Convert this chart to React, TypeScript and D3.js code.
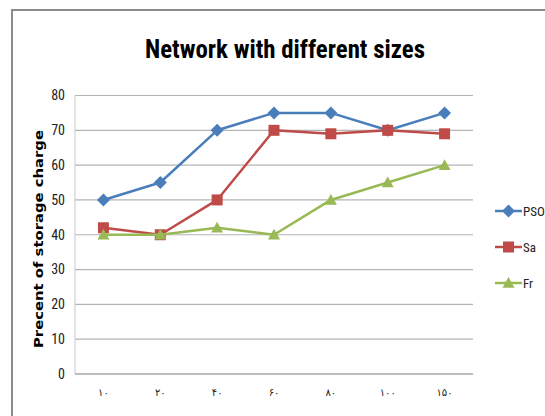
import React from "react";
import * as d3 from "d3";

const categories = ["۱۰", "۲۰", "۴۰", "۶۰", "۸۰", "۱۰۰", "۱۵۰"];
const psoValues = [50, 55, 70, 75, 75, 70, 75];
const saValues = [42, 40, 50, 70, 69, 70, 69];
const frValues = [40, 40, 42, 40, 50, 55, 60];
const yTicks = [0, 10, 20, 30, 40, 50, 60, 70, 80];
const seriesNames = ["PSO", "Sa", "Fr"];

const W = 545;
const H = 416;
const plot = { left: 75, right: 473, top: 95.5, bottom: 374 };
const COND = "'Liberation Sans Narrow', 'Arial Narrow', 'Roboto Condensed', 'Open Sans', sans-serif";

const colors = ["#4a7ebb", "#be4b48", "#98b954"];

function Marker({ kind, x, y, color }: { kind: number; x: number; y: number; color: string }) {
  if (kind === 0) {
    const s = 6.5;
    return <path d={`M${x},${y - s}L${x + s},${y}L${x},${y + s}L${x - s},${y}Z`} fill={color} />;
  }
  if (kind === 1) {
    const s = 5.5;
    return <rect x={x - s} y={y - s} width={2 * s} height={2 * s} fill={color} />;
  }
  const s = 6;
  return <path d={`M${x},${y - s}L${x + s},${y + s * 0.8}L${x - s},${y + s * 0.8}Z`} fill={color} />;
}

export default function App() {
  const x = d3.scaleBand().domain(categories).range([plot.left, plot.right]);
  const y = d3.scaleLinear().domain([0, 80]).range([plot.bottom, plot.top]);
  const cx = (c: string) => (x(c) as number) + x.bandwidth() / 2;
  const series = [psoValues, saValues, frValues];
  const line = d3
    .line<number>()
    .x((_, i) => cx(categories[i]))
    .y((d) => y(d));

  const legendY = [211, 247, 283];

  return (
    <svg width={W} height={H} style={{ position: "absolute", left: 0, top: 0 }}>
      <rect x={0} y={0} width={W} height={H} fill="#fff" />
      <path d={`M12,${H}L12,10L${W},10`} fill="none" stroke="#8c8c8c" strokeWidth={2} />
      <text
        x={285}
        y={58}
        textAnchor="middle"
        fontFamily={COND}
        fontWeight="bold"
        fontSize={26}
        textLength={280}
        lengthAdjust="spacingAndGlyphs"
        fill="#000"
      >
        Network with different sizes
      </text>
      {yTicks.map((t) => (
        <g key={t}>
          {t > 0 && (
            <line x1={plot.left} x2={plot.right} y1={y(t)} y2={y(t)} stroke="#b4b4b4" strokeWidth={1.2} />
          )}
          <text
            x={65}
            y={y(t)}
            dy="0.35em"
            textAnchor="end"
            fontFamily={COND}
            fontSize={14}
            fill="#222"
          >
            {t}
          </text>
        </g>
      ))}
      <line x1={plot.left} x2={plot.left} y1={plot.top} y2={plot.bottom} stroke="#c8c8c8" strokeWidth={1} />
      <line x1={plot.left} x2={plot.right} y1={plot.bottom} y2={plot.bottom} stroke="#a8a8a8" strokeWidth={1.5} />
      {categories.map((c) => (
        <text
          key={c}
          x={cx(c)}
          y={392}
          dy="0.35em"
          textAnchor="middle"
          fontFamily="'DejaVu Sans', sans-serif"
          fontSize={10}
          fill="#222"
        >
          {c}
        </text>
      ))}
      <text
        transform={`translate(43,239) rotate(-90)`}
        textAnchor="middle"
        fontFamily="'DejaVu Sans', sans-serif"
        fontWeight="bold"
        fontSize={12.5}
        textLength={218}
        lengthAdjust="spacingAndGlyphs"
        fill="#000"
      >
        Precent of storage charge
      </text>
      {series.map((vals, si) => (
        <g key={si}>
          <path d={line(vals) as string} fill="none" stroke={colors[si]} strokeWidth={2.5} strokeLinejoin="round" />
          {vals.map((v, i) => (
            <Marker key={i} kind={si} x={cx(categories[i])} y={y(v)} color={colors[si]} />
          ))}
        </g>
      ))}
      {seriesNames.map((n, si) => (
        <g key={n}>
          <line x1={495} x2={522} y1={legendY[si]} y2={legendY[si]} stroke={colors[si]} strokeWidth={2.5} />
          <Marker kind={si} x={508.5} y={legendY[si]} color={colors[si]} />
          <text x={523} y={legendY[si]} dy="0.35em" fontFamily={COND} fontSize={13} fill="#222">
            {n}
          </text>
        </g>
      ))}
    </svg>
  );
}
